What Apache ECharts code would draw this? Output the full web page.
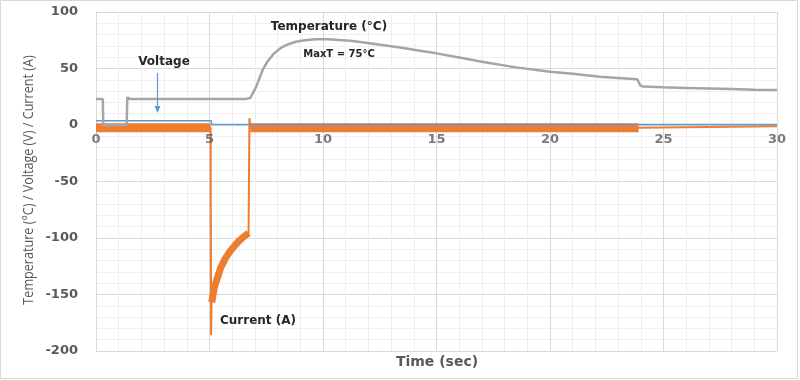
<!DOCTYPE html>
<html>
<head>
<meta charset="utf-8">
<script src="https://cdn.jsdelivr.net/npm/echarts@6/dist/echarts.min.js"></script>
<style>html,body{margin:0;padding:0;background:#fff}#c{width:800px;height:380px}</style>
</head>
<body>
<div id="c"></div>
<script>
// ---- data ----
const tempTime = [0, 0.3, 0.32, 1.35, 1.38, 1.5, 6.6, 6.8, 7.06, 7.34, 7.55, 7.78, 8.0, 8.2, 8.5, 8.8, 9.2, 9.7, 10.2, 10.7, 11.2, 11.8, 12.6, 13.4, 14.2, 15.0, 16.0, 17.0, 18.5, 20.0, 21.0, 22.2, 23.0, 23.85, 23.9, 23.98, 24.1, 25, 26, 27, 28, 29, 30];
const tempVal  = [23, 23, 0, 0, 24.5, 23, 23, 24, 34, 48.7, 56, 62, 66, 69, 71.7, 73.7, 75, 75.8, 75.8, 75.2, 74.6, 73, 70.8, 68.5, 66, 63.4, 59.8, 56, 51, 47.2, 45.3, 42.8, 41.7, 40.4, 38, 35, 34, 33.3, 32.8, 32.3, 31.8, 31.3, 31];

const voltTime = [0, 5.07, 5.1, 30];
const voltVal  = [3.8, 3.8, 0.5, 0.5];

const currTime = [0, 5.05, 5.07, 5.09, 5.1, 5.2, 5.35, 5.5, 5.7, 5.9, 6.1, 6.3, 6.5, 6.72, 6.76, 6.8, 23.9, 23.93, 30];
const currVal  = [-2.4, -2.4, -186, -157, -157, -145, -135, -126, -118, -112, -107, -102.5, -99, -95.5, 6, -2.4, -2.4, -1, -1];

// noisy-band centre lines of the current trace
const bandA_Time = [0, 5.05];
const bandA_Val  = [-2.4, -2.4];
const bandB_Time = [5.1, 5.2, 5.35, 5.5, 5.7, 5.9, 6.1, 6.3, 6.5, 6.72];
const bandB_Val  = [-157, -145, -135, -126, -118, -112, -107, -102.5, -99, -95.5];
const bandC_Time = [6.8, 23.9];
const bandC_Val  = [-2.4, -2.4];

const xTicks = [0, 5, 10, 15, 20, 25, 30];
const yTicks = [-200, -150, -100, -50, 0, 50, 100];

const pair = (t, v) => t.map((x, i) => [x, v[i]]);

const chart = echarts.init(document.getElementById('c'), null, {renderer: 'canvas'});
const ORANGE = '#ed7d31', BLUE = '#5b9bd5', GRAY = '#a5a5a5', TXT = '#595959';
const BFONT = '"DejaVu Sans", sans-serif';
const RFONT = '"Open Sans", sans-serif';

const bandSeries = (t, v, w) => ({
  type: 'line', data: pair(t, v), showSymbol: false, silent: true, animation: false,
  lineStyle: {color: ORANGE, width: w, cap: 'butt'}, z: 2
});

chart.setOption({
  animation: false,
  backgroundColor: '#fff',
  grid: {left: 96, right: 23, top: 12, bottom: 29},
  xAxis: {
    type: 'value', min: xTicks[0], max: xTicks[xTicks.length - 1], interval: 5,
    axisLine: {show: false},
    axisTick: {show: false},
    axisLabel: {show: false},
    splitLine: {lineStyle: {color: '#d9d9d9', width: 1}},
    minorTick: {show: false, splitNumber: 5},
    minorSplitLine: {show: true, lineStyle: {color: '#efefef', width: 1}}
  },
  yAxis: {
    type: 'value', min: yTicks[0], max: yTicks[yTicks.length - 1], interval: 50,
    axisLine: {show: true, onZero: false, lineStyle: {color: '#d9d9d9'}},
    axisTick: {show: false},
    axisLabel: {color: TXT, fontWeight: 'bold', fontSize: 13, fontFamily: BFONT, margin: 18},
    splitLine: {lineStyle: {color: '#d9d9d9', width: 1}},
    minorTick: {show: false, splitNumber: 5},
    minorSplitLine: {show: true, lineStyle: {color: '#efefef', width: 1}}
  },
  series: [
    bandSeries(bandA_Time, bandA_Val, 9),
    bandSeries(bandB_Time, bandB_Val, 7),
    bandSeries(bandC_Time, bandC_Val, 9),
    {type: 'line', name: 'Current (A)', data: pair(currTime, currVal), showSymbol: false,
     lineStyle: {color: ORANGE, width: 2}, z: 3},
    {type: 'line', name: 'Voltage', data: pair(voltTime, voltVal), showSymbol: false,
     lineStyle: {color: BLUE, width: 1.5}, z: 4},
    {type: 'line', name: 'Temperature (°C)', data: pair(tempTime, tempVal), showSymbol: false,
     lineStyle: {color: GRAY, width: 2.5}, z: 5},
    // x tick labels sitting on the zero line (axis crosses at 0)
    {type: 'scatter', data: xTicks.map(v => [v, 0]), symbolSize: 0, silent: true, clip: false, z: 6,
     label: {show: true, position: 'bottom', distance: 8, formatter: p => String(p.value[0]),
             color: TXT, fontWeight: 'bold', fontSize: 13, fontFamily: BFONT}}
  ],
  graphic: [
    {type: 'rect', shape: {x: 0.5, y: 0.5, width: 797, height: 378}, style: {fill: 'none', stroke: '#d9d9d9', lineWidth: 1}, z: 0, silent: true},
    {type: 'text', x: 29, y: 180, rotation: Math.PI / 2, scaleX: 0.9, style: {text: 'Temperature (°C) / Voltage (V) / Current (A)', fill: TXT, font: '14px ' + RFONT, textAlign: 'center', textVerticalAlign: 'middle'}},
    {type: 'text', x: 437, y: 362, style: {text: 'Time (sec)', fill: TXT, font: 'bold 14px ' + BFONT, textAlign: 'center', textVerticalAlign: 'middle'}},
    {type: 'text', x: 164, y: 62, style: {text: 'Voltage', fill: '#262626', font: 'bold 12px ' + BFONT, textAlign: 'center', textVerticalAlign: 'middle'}, z: 10},
    {type: 'line', shape: {x1: 157.5, y1: 73, x2: 157.5, y2: 108}, style: {stroke: BLUE, lineWidth: 1.2}, z: 10},
    {type: 'polygon', shape: {points: [[154.5, 106], [160.5, 106], [157.5, 113]]}, style: {fill: BLUE}, z: 10},
    {type: 'text', x: 329, y: 27, style: {text: 'Temperature (°C)', fill: '#262626', font: 'bold 12px ' + BFONT, textAlign: 'center', textVerticalAlign: 'middle'}, z: 10},
    {type: 'text', x: 339, y: 54, style: {text: 'MaxT = 75°C', fill: '#262626', font: 'bold 10px ' + BFONT, textAlign: 'center', textVerticalAlign: 'middle'}, z: 10},
    {type: 'text', x: 258, y: 321, style: {text: 'Current (A)', fill: '#262626', font: 'bold 12px ' + BFONT, textAlign: 'center', textVerticalAlign: 'middle'}, z: 10}
  ]
});
</script>
</body>
</html>
